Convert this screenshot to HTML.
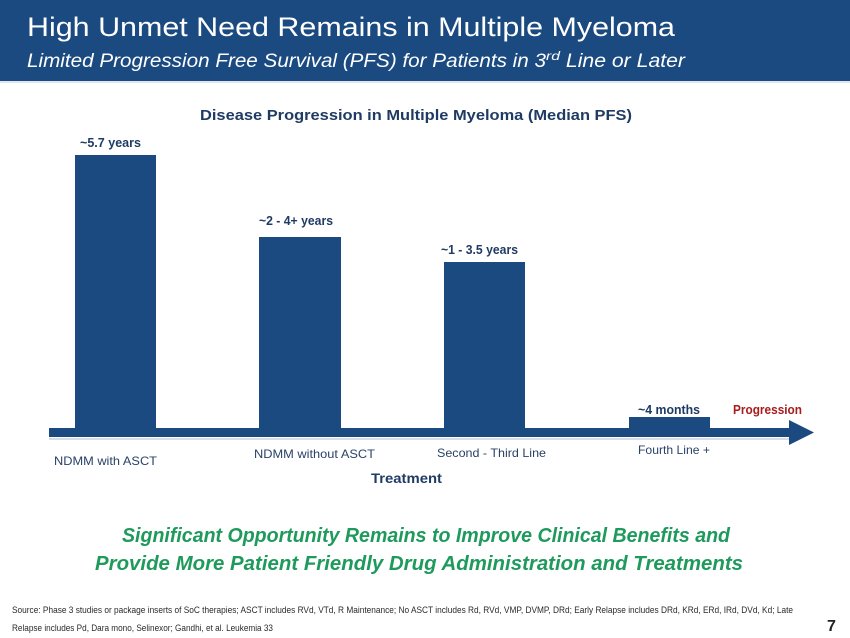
<!DOCTYPE html>
<html>
<head>
<meta charset="utf-8">
<style>
  html, body { margin:0; padding:0; background:#ffffff; }
  body { width:850px; height:638px; overflow:hidden; }
  svg { display:block; }
  text { font-family: "Liberation Sans", sans-serif; }
</style>
</head>
<body>
<svg width="850" height="638" viewBox="0 0 850 638" xmlns="http://www.w3.org/2000/svg">
  <!-- Header -->
  <rect x="0" y="0" width="850" height="81" fill="#1a4a80"/>
  <rect x="0" y="81" width="850" height="2" fill="#dfe6ee"/>
  <text x="27" y="36" font-size="27" fill="#ffffff" textLength="648" lengthAdjust="spacingAndGlyphs">High Unmet Need Remains in Multiple Myeloma</text>
  <text x="27" y="67" font-size="19" font-style="italic" fill="#ffffff">
    <tspan textLength="519" lengthAdjust="spacingAndGlyphs">Limited Progression Free Survival (PFS) for Patients in 3</tspan><tspan dy="-7" font-size="12" textLength="14" lengthAdjust="spacingAndGlyphs">rd</tspan><tspan dy="7" textLength="125" lengthAdjust="spacingAndGlyphs"> Line or Later</tspan>
  </text>

  <!-- Chart title -->
  <text x="200" y="120" font-size="14.5" font-weight="bold" fill="#1f3b64" textLength="432" lengthAdjust="spacingAndGlyphs">Disease Progression in Multiple Myeloma (Median PFS)</text>

  <!-- Bars -->
  <rect x="75" y="155" width="81" height="276" fill="#1a4a80"/>
  <rect x="259" y="237" width="82" height="194" fill="#1a4a80"/>
  <rect x="444" y="262" width="81" height="169" fill="#1a4a80"/>
  <rect x="629" y="417" width="81" height="14" fill="#1a4a80"/>

  <!-- Axis arrow -->
  <rect x="49" y="438" width="742" height="2" fill="#d8dde4"/>
  <rect x="49" y="428" width="742" height="9" fill="#1a4a80"/>
  <polygon points="789,420 814,432.5 789,445" fill="#1a4a80"/>

  <!-- Value labels -->
  <text x="80" y="147" font-size="12.5" font-weight="bold" fill="#1f3b64" textLength="61" lengthAdjust="spacingAndGlyphs">~5.7 years</text>
  <text x="259" y="225" font-size="12.5" font-weight="bold" fill="#1f3b64" textLength="74" lengthAdjust="spacingAndGlyphs">~2 - 4+ years</text>
  <text x="441" y="254" font-size="12.5" font-weight="bold" fill="#1f3b64" textLength="77" lengthAdjust="spacingAndGlyphs">~1 - 3.5 years</text>
  <text x="638" y="414" font-size="12.5" font-weight="bold" fill="#1f3b64" textLength="62" lengthAdjust="spacingAndGlyphs">~4 months</text>
  <text x="733" y="414" font-size="12.5" font-weight="bold" fill="#a81c1c" textLength="69" lengthAdjust="spacingAndGlyphs">Progression</text>

  <!-- Category labels -->
  <text x="54" y="465" font-size="12" fill="#2a4268" textLength="103" lengthAdjust="spacingAndGlyphs">NDMM with ASCT</text>
  <text x="254" y="458" font-size="12" fill="#2a4268" textLength="121" lengthAdjust="spacingAndGlyphs">NDMM without ASCT</text>
  <text x="437" y="457" font-size="12" fill="#2a4268" textLength="109" lengthAdjust="spacingAndGlyphs">Second - Third Line</text>
  <text x="638" y="454" font-size="12" fill="#2a4268" textLength="72" lengthAdjust="spacingAndGlyphs">Fourth Line +</text>

  <!-- Axis title -->
  <text x="371" y="483" font-size="14" font-weight="bold" fill="#1f3b64" textLength="71" lengthAdjust="spacingAndGlyphs">Treatment</text>

  <!-- Green callout -->
  <text x="122" y="542" font-size="20" font-weight="bold" font-style="italic" fill="#1e9a5c" textLength="608" lengthAdjust="spacingAndGlyphs">Significant Opportunity Remains to Improve Clinical Benefits and</text>
  <text x="95" y="570" font-size="20" font-weight="bold" font-style="italic" fill="#1e9a5c" textLength="648" lengthAdjust="spacingAndGlyphs">Provide More Patient Friendly Drug Administration and Treatments</text>

  <!-- Footer -->
  <text x="12" y="613" font-size="9" fill="#2a2a2a" textLength="781" lengthAdjust="spacingAndGlyphs">Source: Phase 3 studies or package inserts of SoC therapies; ASCT includes RVd, VTd, R Maintenance; No ASCT includes Rd, RVd, VMP, DVMP, DRd; Early Relapse includes DRd, KRd, ERd, IRd, DVd, Kd; Late</text>
  <text x="12" y="631" font-size="9" fill="#2a2a2a" textLength="261" lengthAdjust="spacingAndGlyphs">Relapse includes Pd, Dara mono, Selinexor; Gandhi, et al. Leukemia 33</text>
  <text x="827" y="631" font-size="16" font-weight="bold" fill="#222222">7</text>
</svg>
</body>
</html>
